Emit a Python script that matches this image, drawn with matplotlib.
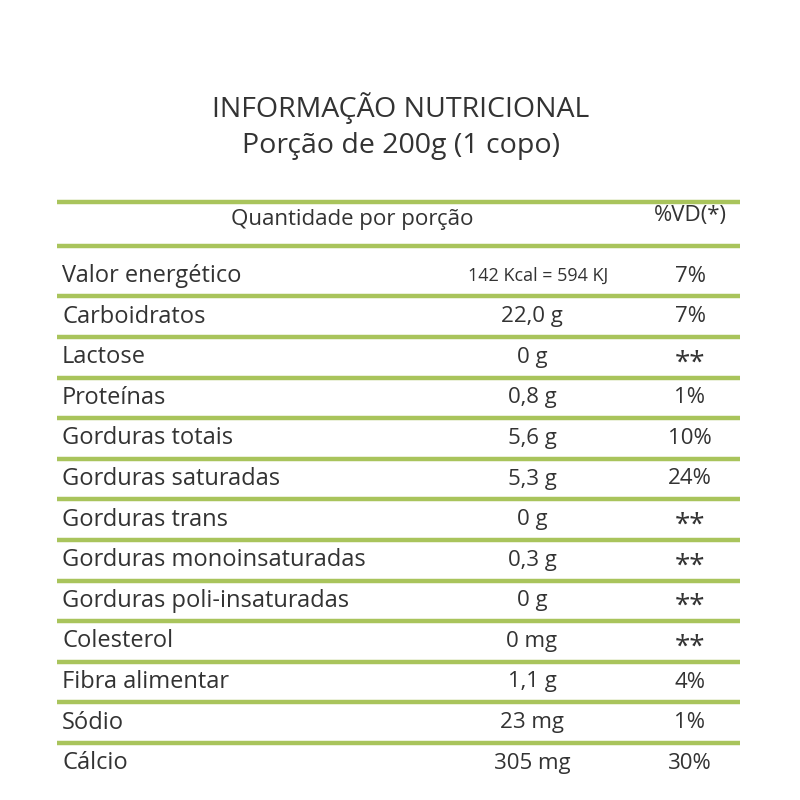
import matplotlib
matplotlib.use("Agg")
import matplotlib.pyplot as plt

title = ["INFORMAÇÃO NUTRICIONAL", "Porção de 200g (1 copo)"]
header = ["Quantidade por porção", "%VD(*)"]
nutrients = ["Valor energético", "Carboidratos", "Lactose", "Proteínas",
             "Gorduras totais", "Gorduras saturadas", "Gorduras trans",
             "Gorduras monoinsaturadas", "Gorduras poli-insaturadas",
             "Colesterol", "Fibra alimentar", "Sódio", "Cálcio"]
amounts = ["142 Kcal = 594 KJ", "22,0 g", "0 g", "0,8 g", "5,6 g", "5,3 g",
           "0 g", "0,3 g", "0 g", "0 mg", "1,1 g", "23 mg", "305 mg"]
vd = ["7%", "7%", "**", "1%", "10%", "24%", "**", "**", "**", "**",
      "4%", "1%", "30%"]

green = "#a9c45c"
ink = "#333333"
plt.rcParams["font.family"] = "Open Sans"

fig = plt.figure(figsize=(8, 8), dpi=100)
ax = fig.add_axes([0, 0, 1, 1])
ax.set_xlim(0, 800)
ax.set_ylim(800, 0)
ax.axis("off")

ax.text(401, 108, title[0], ha="center", va="center", fontsize=20.5, color=ink)
ax.text(401, 146, title[1], ha="center", va="center", fontsize=20.5, color=ink)

for y in [202, 246]:
    ax.plot([57, 740], [y, y], color=green, lw=3.2, solid_capstyle="butt")
ax.text(352, 220, header[0], ha="center", va="center", fontsize=16, color=ink)
ax.text(690, 216, header[1], ha="center", va="center", fontsize=16, color=ink)

row_h = 40.6
y0 = 276
for i, (n, a, v) in enumerate(zip(nutrients, amounts, vd)):
    y = y0 + i * row_h
    ax.text(62, y, n, ha="left", va="center", fontsize=17, color=ink)
    fs = 13 if len(a) > 10 else 16
    ax.text(538 if len(a) > 10 else 532, y, a, ha="center", va="center", fontsize=fs, color=ink)
    if v == "**":
        ax.text(690, y + 6, v, ha="center", va="center", fontsize=20, color=ink)
    else:
        ax.text(690, y, v, ha="center", va="center", fontsize=16, color=ink)
    if i < len(nutrients) - 1:
        ly = y + row_h / 2
        ax.plot([57, 740], [ly, ly], color=green, lw=3.2, solid_capstyle="butt")

fig.savefig("out.png", dpi=100, facecolor="white")
